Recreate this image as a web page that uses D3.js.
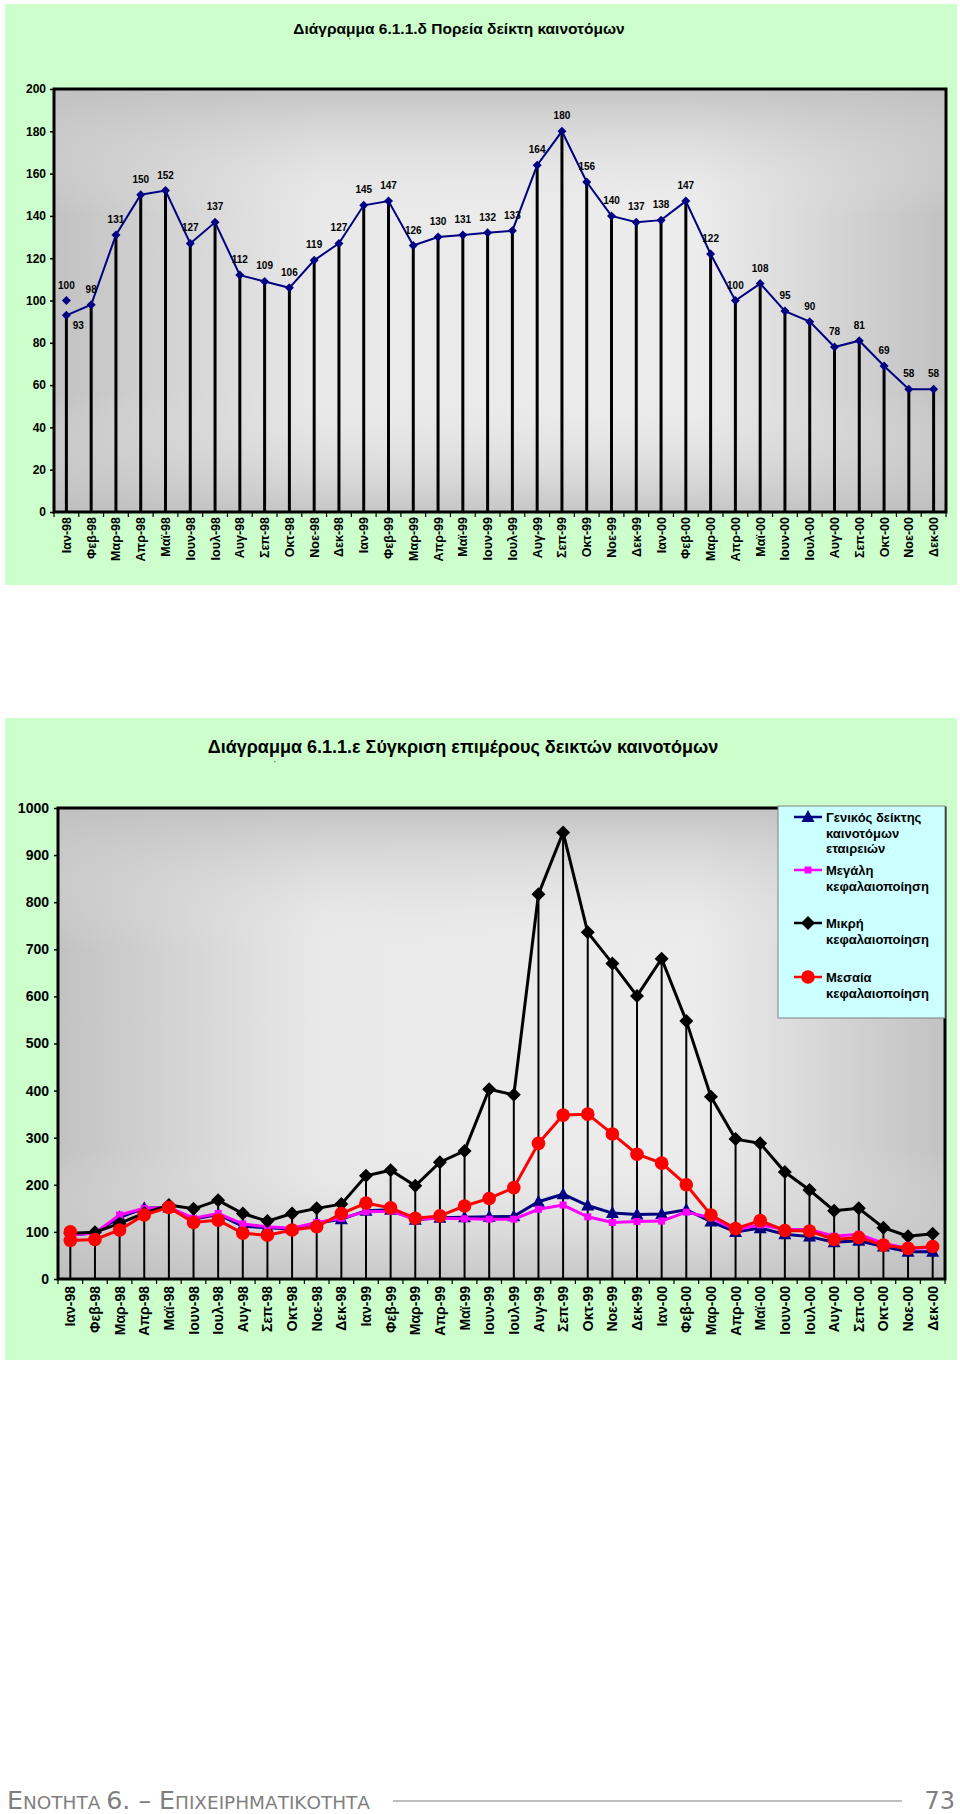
<!DOCTYPE html>
<html><head><meta charset="utf-8">
<script src="https://cdn.jsdelivr.net/npm/d3@7"></script>
<style>html,body{margin:0;padding:0;background:#fff}svg{display:block}</style>
</head><body>
<script>
// ---------- DATA ----------
const categories = ["Ιαν-98","Φεβ-98","Μαρ-98","Απρ-98","Μαϊ-98","Ιουν-98","Ιουλ-98","Αυγ-98","Σεπ-98","Οκτ-98","Νοε-98","Δεκ-98",
  "Ιαν-99","Φεβ-99","Μαρ-99","Απρ-99","Μαϊ-99","Ιουν-99","Ιουλ-99","Αυγ-99","Σεπ-99","Οκτ-99","Νοε-99","Δεκ-99",
  "Ιαν-00","Φεβ-00","Μαρ-00","Απρ-00","Μαϊ-00","Ιουν-00","Ιουλ-00","Αυγ-00","Σεπ-00","Οκτ-00","Νοε-00","Δεκ-00"];
const baseValue = 100; // base point at Ιαν-98
const generalIndex = [93,98,131,150,152,127,137,112,109,106,119,127,145,147,126,130,131,132,133,164,180,156,140,137,138,147,122,100,108,95,90,78,81,69,58,58];
const largeCap = [93,98,136,150,152,129,139,117,111,108,120,129,143,144,127,129,128,127,127,148,157,132,120,122,123,142,130,104,115,105,105,91,95,76,65,67];
const smallCap = [97,99,118,140,157,149,167,139,123,139,150,159,219,231,198,248,272,403,391,817,948,736,670,601,680,548,387,297,288,227,189,145,150,109,91,96];
const midCap = [82,84,104,136,152,120,125,97,93,104,111,139,161,151,129,134,155,171,194,288,348,350,308,265,246,200,136,107,124,103,102,84,88,72,65,69];
const yTicks1 = [0,20,40,60,80,100,120,140,160,180,200];
const yTicks2 = [0,100,200,300,400,500,600,700,800,900,1000];
const title1 = "Διάγραμμα 6.1.1.δ Πορεία δείκτη καινοτόμων";
const title2 = "Διάγραμμα 6.1.1.ε Σύγκριση επιμέρους δεικτών καινοτόμων";
const legendNames = [["Γενικός δείκτης","καινοτόμων","εταιρειών"],["Μεγάλη","κεφαλαιοποίηση"],["Μικρή","κεφαλαιοποίηση"],["Μεσαία","κεφαλαιοποίηση"]];
const footerParts = [["Ε","big"],["ΝΟΤΗΤΑ ","small"],["6. – ","big"],["Ε","big"],["ΠΙΧΕΙΡΗΜΑΤΙΚΟΤΗΤΑ","small"]];
const pageNumber = "73";

// ---------- DRAW ----------
const FONT = "'Liberation Sans', Arial, sans-serif";
const svg = d3.select("body").append("svg").attr("width",960).attr("height",1814);
const defs = svg.append("defs");
const gh = defs.append("linearGradient").attr("id","gh").attr("x1","0").attr("x2","1").attr("y1","0").attr("y2","0");
[[0,"#c2c2c2"],[0.3,"#e9e9e9"],[0.72,"#ececec"],[1,"#c2c2c2"]].forEach(s=>gh.append("stop").attr("offset",s[0]).attr("stop-color",s[1]));
const gv = defs.append("linearGradient").attr("id","gv").attr("x1","0").attr("x2","0").attr("y1","0").attr("y2","1");
[[0,"#c0c0c0",0.9],[0.3,"#e8e8e8",0],[0.72,"#e8e8e8",0],[1,"#bdbdbd",0.8]].forEach(s=>gv.append("stop").attr("offset",s[0]).attr("stop-color",s[1]).attr("stop-opacity",s[2]));

function plotBg(x0,y0,x1,y1){
  svg.append("rect").attr("x",x0).attr("y",y0).attr("width",x1-x0).attr("height",y1-y0).attr("fill","url(#gh)");
  svg.append("rect").attr("x",x0).attr("y",y0).attr("width",x1-x0).attr("height",y1-y0).attr("fill","url(#gv)");
}
function axes(x,y,ticks,fs,pad,labTop,labFs){
  const [x0,x1] = x.range(), [y0,y1] = y.range();
  const ya = svg.append("g").attr("transform",`translate(${x0},0)`)
    .call(d3.axisLeft(y).tickValues(ticks).tickFormat(d3.format("d")).tickSize(4).tickPadding(pad));
  ya.select(".domain").remove();
  ya.selectAll("line").attr("stroke","#000").attr("stroke-width",1.5);
  ya.selectAll("text").attr("font-family",FONT).attr("font-weight","bold").attr("font-size",fs).attr("fill","#000");
  const bounds = categories.map(c=>x(c)).concat([x1]);
  svg.append("g").selectAll("line").data(bounds).join("line")
    .attr("x1",d=>d).attr("x2",d=>d).attr("y1",y0).attr("y2",y0+5).attr("stroke","#000").attr("stroke-width",1.2);
  const xa = svg.append("g").attr("transform",`translate(0,${labTop})`)
    .call(d3.axisBottom(x).tickSize(0).tickPadding(0));
  xa.select(".domain").remove();
  xa.selectAll("text").attr("font-family",FONT).attr("font-weight","bold").attr("font-size",labFs).attr("fill","#000")
    .attr("transform","rotate(-90)").attr("text-anchor","end").attr("x",0).attr("y",0).attr("dy","0.36em");
}
function border(x,y){
  const [x0,x1] = x.range(), [y0,y1] = y.range();
  svg.append("rect").attr("x",x0).attr("y",y1).attr("width",x1-x0).attr("height",y0-y1)
    .attr("fill","none").attr("stroke","#000").attr("stroke-width",3);
}
function diamond(g,cx,cy,r,fill){
  g.append("path").attr("d",`M${cx},${cy-r}L${cx+r},${cy}L${cx},${cy+r}L${cx-r},${cy}Z`).attr("fill",fill);
}

// ===== Chart 1 =====
svg.append("rect").attr("x",5).attr("y",4).attr("width",952).attr("height",581).attr("fill","#ccffcc");
svg.append("text").attr("x",459).attr("y",34).attr("text-anchor","middle").attr("font-family",FONT)
  .attr("font-weight","bold").attr("font-size",15.5).attr("fill","#000").text(title1);
svg.append("text").attr("x",349).attr("y",43).attr("font-family",FONT).attr("font-size",8).attr("fill","#000").text("'");

const x1 = d3.scaleBand().domain(categories).range([54,946]);
const y1 = d3.scaleLinear().domain([0,200]).range([512,89]);
const cx1 = c => x1(c)+x1.bandwidth()/2;
plotBg(54,89,946,512);
axes(x1,y1,yTicks1,12,4,517,12.5);
svg.append("g").selectAll("line").data(generalIndex).join("line")
  .attr("x1",(d,i)=>cx1(categories[i])).attr("x2",(d,i)=>cx1(categories[i]))
  .attr("y1",d=>y1(d)).attr("y2",y1(0)).attr("stroke","#000").attr("stroke-width",3);
border(x1,y1);
const line1 = d3.line().x((d,i)=>cx1(categories[i])).y(d=>y1(d));
svg.append("path").datum(generalIndex).attr("d",line1).attr("fill","none").attr("stroke","#000080").attr("stroke-width",2);
const m1 = svg.append("g");
generalIndex.forEach((v,i)=>diamond(m1,cx1(categories[i]),y1(v),4.5,"#000080"));
diamond(m1,cx1(categories[0]),y1(baseValue),4.5,"#000080");
const lab1 = svg.append("g").attr("font-family",FONT).attr("font-weight","bold").attr("font-size",10).attr("fill","#000").attr("text-anchor","middle");
generalIndex.forEach((v,i)=>{
  if(i===0){
    lab1.append("text").attr("x",cx1(categories[i])+12).attr("y",y1(v)+14).text(v);
  } else {
    lab1.append("text").attr("x",cx1(categories[i])).attr("y",y1(v)-12).text(v);
  }
});
lab1.append("text").attr("x",cx1(categories[0])).attr("y",y1(baseValue)-12).text(baseValue);

// ===== Chart 2 =====
svg.append("rect").attr("x",5).attr("y",718).attr("width",952).attr("height",642).attr("fill","#ccffcc");
svg.append("text").attr("x",463).attr("y",753).attr("text-anchor","middle").attr("font-family",FONT)
  .attr("font-weight","bold").attr("font-size",18).attr("fill","#000").text(title2);
svg.append("text").attr("x",274).attr("y",766).attr("font-family",FONT).attr("font-size",8).attr("fill","#000").text("'");

const x2 = d3.scaleBand().domain(categories).range([58,945]);
const y2 = d3.scaleLinear().domain([0,1000]).range([1279,808]);
const cx2 = c => x2(c)+x2.bandwidth()/2;
plotBg(58,808,945,1279);
axes(x2,y2,yTicks2,14,5,1286,14);
const allSeries = [generalIndex,largeCap,smallCap,midCap];
const tops = categories.map((c,i)=>d3.max(allSeries,s=>s[i]));
svg.append("g").selectAll("line").data(tops).join("line")
  .attr("x1",(d,i)=>cx2(categories[i])).attr("x2",(d,i)=>cx2(categories[i]))
  .attr("y1",d=>y2(d)).attr("y2",y2(0)).attr("stroke","#000").attr("stroke-width",2);
border(x2,y2);
const line2 = d3.line().x((d,i)=>cx2(categories[i])).y(d=>y2(d));
const styles = [
  {data:generalIndex,color:"#000080",marker:"tri"},
  {data:largeCap,color:"#ff00ff",marker:"sq"},
  {data:smallCap,color:"#000000",marker:"dia"},
  {data:midCap,color:"#ff0000",marker:"circ"}
];
function marker(g,type,cx,cy,color){
  if(type==="tri") g.append("path").attr("d",`M${cx},${cy-7}L${cx+6.5},${cy+5}L${cx-6.5},${cy+5}Z`).attr("fill",color);
  else if(type==="sq") g.append("rect").attr("x",cx-3.5).attr("y",cy-3.5).attr("width",7).attr("height",7).attr("fill",color);
  else if(type==="dia") diamond(g,cx,cy,7,color);
  else g.append("circle").attr("cx",cx).attr("cy",cy).attr("r",6.8).attr("fill",color);
}
styles.forEach(s=>{
  svg.append("path").datum(s.data).attr("d",line2).attr("fill","none").attr("stroke",s.color).attr("stroke-width",3);
  const g = svg.append("g");
  s.data.forEach((v,i)=>marker(g,s.marker,cx2(categories[i]),y2(v),s.color));
});
marker(svg.append("g"),"circ",cx2(categories[0]),y2(baseValue),"#ff0000");

// legend
svg.append("rect").attr("x",778).attr("y",806).attr("width",167).attr("height",212).attr("fill","#ccffff").attr("stroke","#808080").attr("stroke-width",1);
const legY = [817,870,923,977];
styles.forEach((s,k)=>{
  const g = svg.append("g");
  g.append("line").attr("x1",794).attr("x2",822).attr("y1",legY[k]).attr("y2",legY[k]).attr("stroke",s.color).attr("stroke-width",2.5);
  marker(g,s.marker,808,legY[k],s.color);
  const t = g.append("text").attr("font-family",FONT).attr("font-weight","bold").attr("font-size",13).attr("fill","#000");
  legendNames[k].forEach((ln,j)=>t.append("tspan").attr("x",826).attr("y",legY[k]+5+j*15.5).text(ln));
});

// ===== Footer =====
const FFONT = "'DejaVu Sans', Verdana, sans-serif";
const ft = svg.append("text").attr("x",7).attr("y",1809).attr("font-family",FFONT).attr("fill","#7f7f7f");
footerParts.forEach(p=>ft.append("tspan").attr("font-size",p[1]==="big"?24:17.5).text(p[0]));
ft.attr("textLength",363).attr("lengthAdjust","spacingAndGlyphs");
svg.append("line").attr("x1",393).attr("x2",902).attr("y1",1801).attr("y2",1801).attr("stroke","#808080").attr("stroke-width",1.2);
svg.append("text").attr("x",955).attr("y",1809).attr("text-anchor","end").attr("font-family",FFONT)
  .attr("font-size",24).attr("fill","#7f7f7f").text(pageNumber);
</script>
</body></html>
